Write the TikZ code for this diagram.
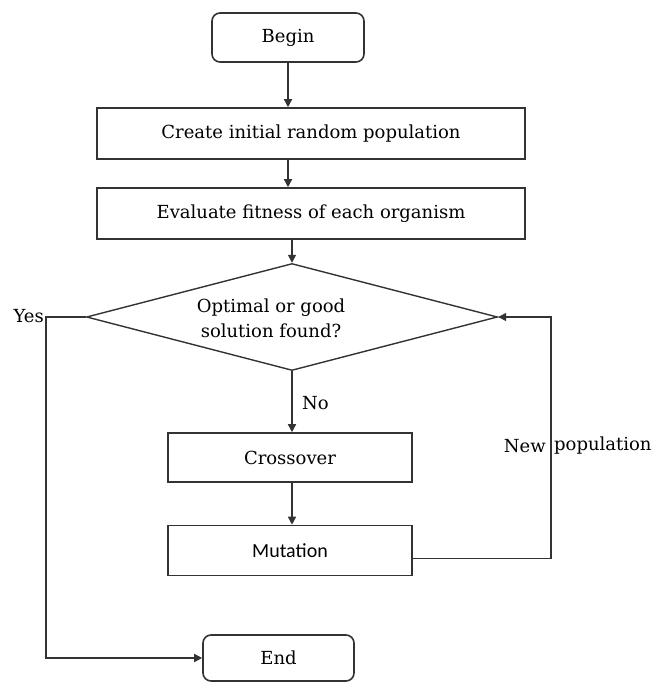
\documentclass[tikz,border=0pt]{standalone}
\usepackage{fontspec}
\setmainfont{DejaVu Serif}
\newfontfamily\calib{Carlito}
\usetikzlibrary{shapes.geometric,arrows.meta,calc}
\begin{document}
\begin{tikzpicture}[x=1pt,y=-1pt,
  line/.style={draw=black!80, line width=1.4pt},
  arr/.style={line, -{Triangle[length=8pt,width=8pt]}},
  boxst/.style={draw=black!80, line width=1.6pt, rectangle, inner sep=0pt,
     font=\fontsize{18}{22}\selectfont},
  termst/.style={boxst, rounded corners=8pt},
  lbl/.style={inner sep=0pt, font=\fontsize{18}{22}\selectfont}
]
\useasboundingbox[fill=white] (0,0) rectangle (656,682);

\node[termst, minimum width=152pt, minimum height=49pt] (begin) at (288,37.5) {Begin};
\node[boxst, minimum width=428pt, minimum height=51pt] (create) at (311,133.5) {Create initial random population};
\node[boxst, minimum width=428pt, minimum height=51pt] (eval) at (311,213.5) {Evaluate fitness of each organism};
\node[diamond, draw=black!80, line width=1.4pt, aspect=3.84, minimum width=411pt, minimum height=107pt, inner sep=0pt] (dec) at (292,317) {};
\node[lbl, align=center, font=\fontsize{18}{25}\selectfont] (dectext) at (271,318) {Optimal or good\\solution found?};
\node[boxst, minimum width=244pt, minimum height=49pt] (cross) at (290,457.5) {Crossover};
\node[boxst, minimum width=244pt, minimum height=50pt, font=\calib\fontsize{20}{24}\selectfont] (mut) at (290,550.5) {Mutation};
\node[termst, minimum width=151pt, minimum height=46pt] (end) at (278.5,658) {End};

\coordinate (yc) at (46,317);

\draw[arr] (begin.south) -- (create.north -| begin.south);
\draw[arr] (create.south -| begin.south) -- (eval.north -| begin.south);
\draw[arr] (eval.south -| dec.north) -- (dec.north);
\draw[arr] (dec.south) -- (cross.north -| dec.south);
\draw[arr] (cross.south -| dec.south) -- (mut.north -| dec.south);
\draw[arr] ([yshift=-8pt]mut.east) -- ++(138,0) |- (dec.east);
\draw[arr] (dec.west) -- (yc) |- (end.west);

\node[lbl, anchor=east] (yes) at (44,316) {Yes};
\node[lbl, anchor=west] (no) at (302,403) {No};
\node[lbl, anchor=east] (new) at (546,446) {New};
\node[lbl, anchor=west] (pop) at (554,446) {population};
\end{tikzpicture}
\end{document}
